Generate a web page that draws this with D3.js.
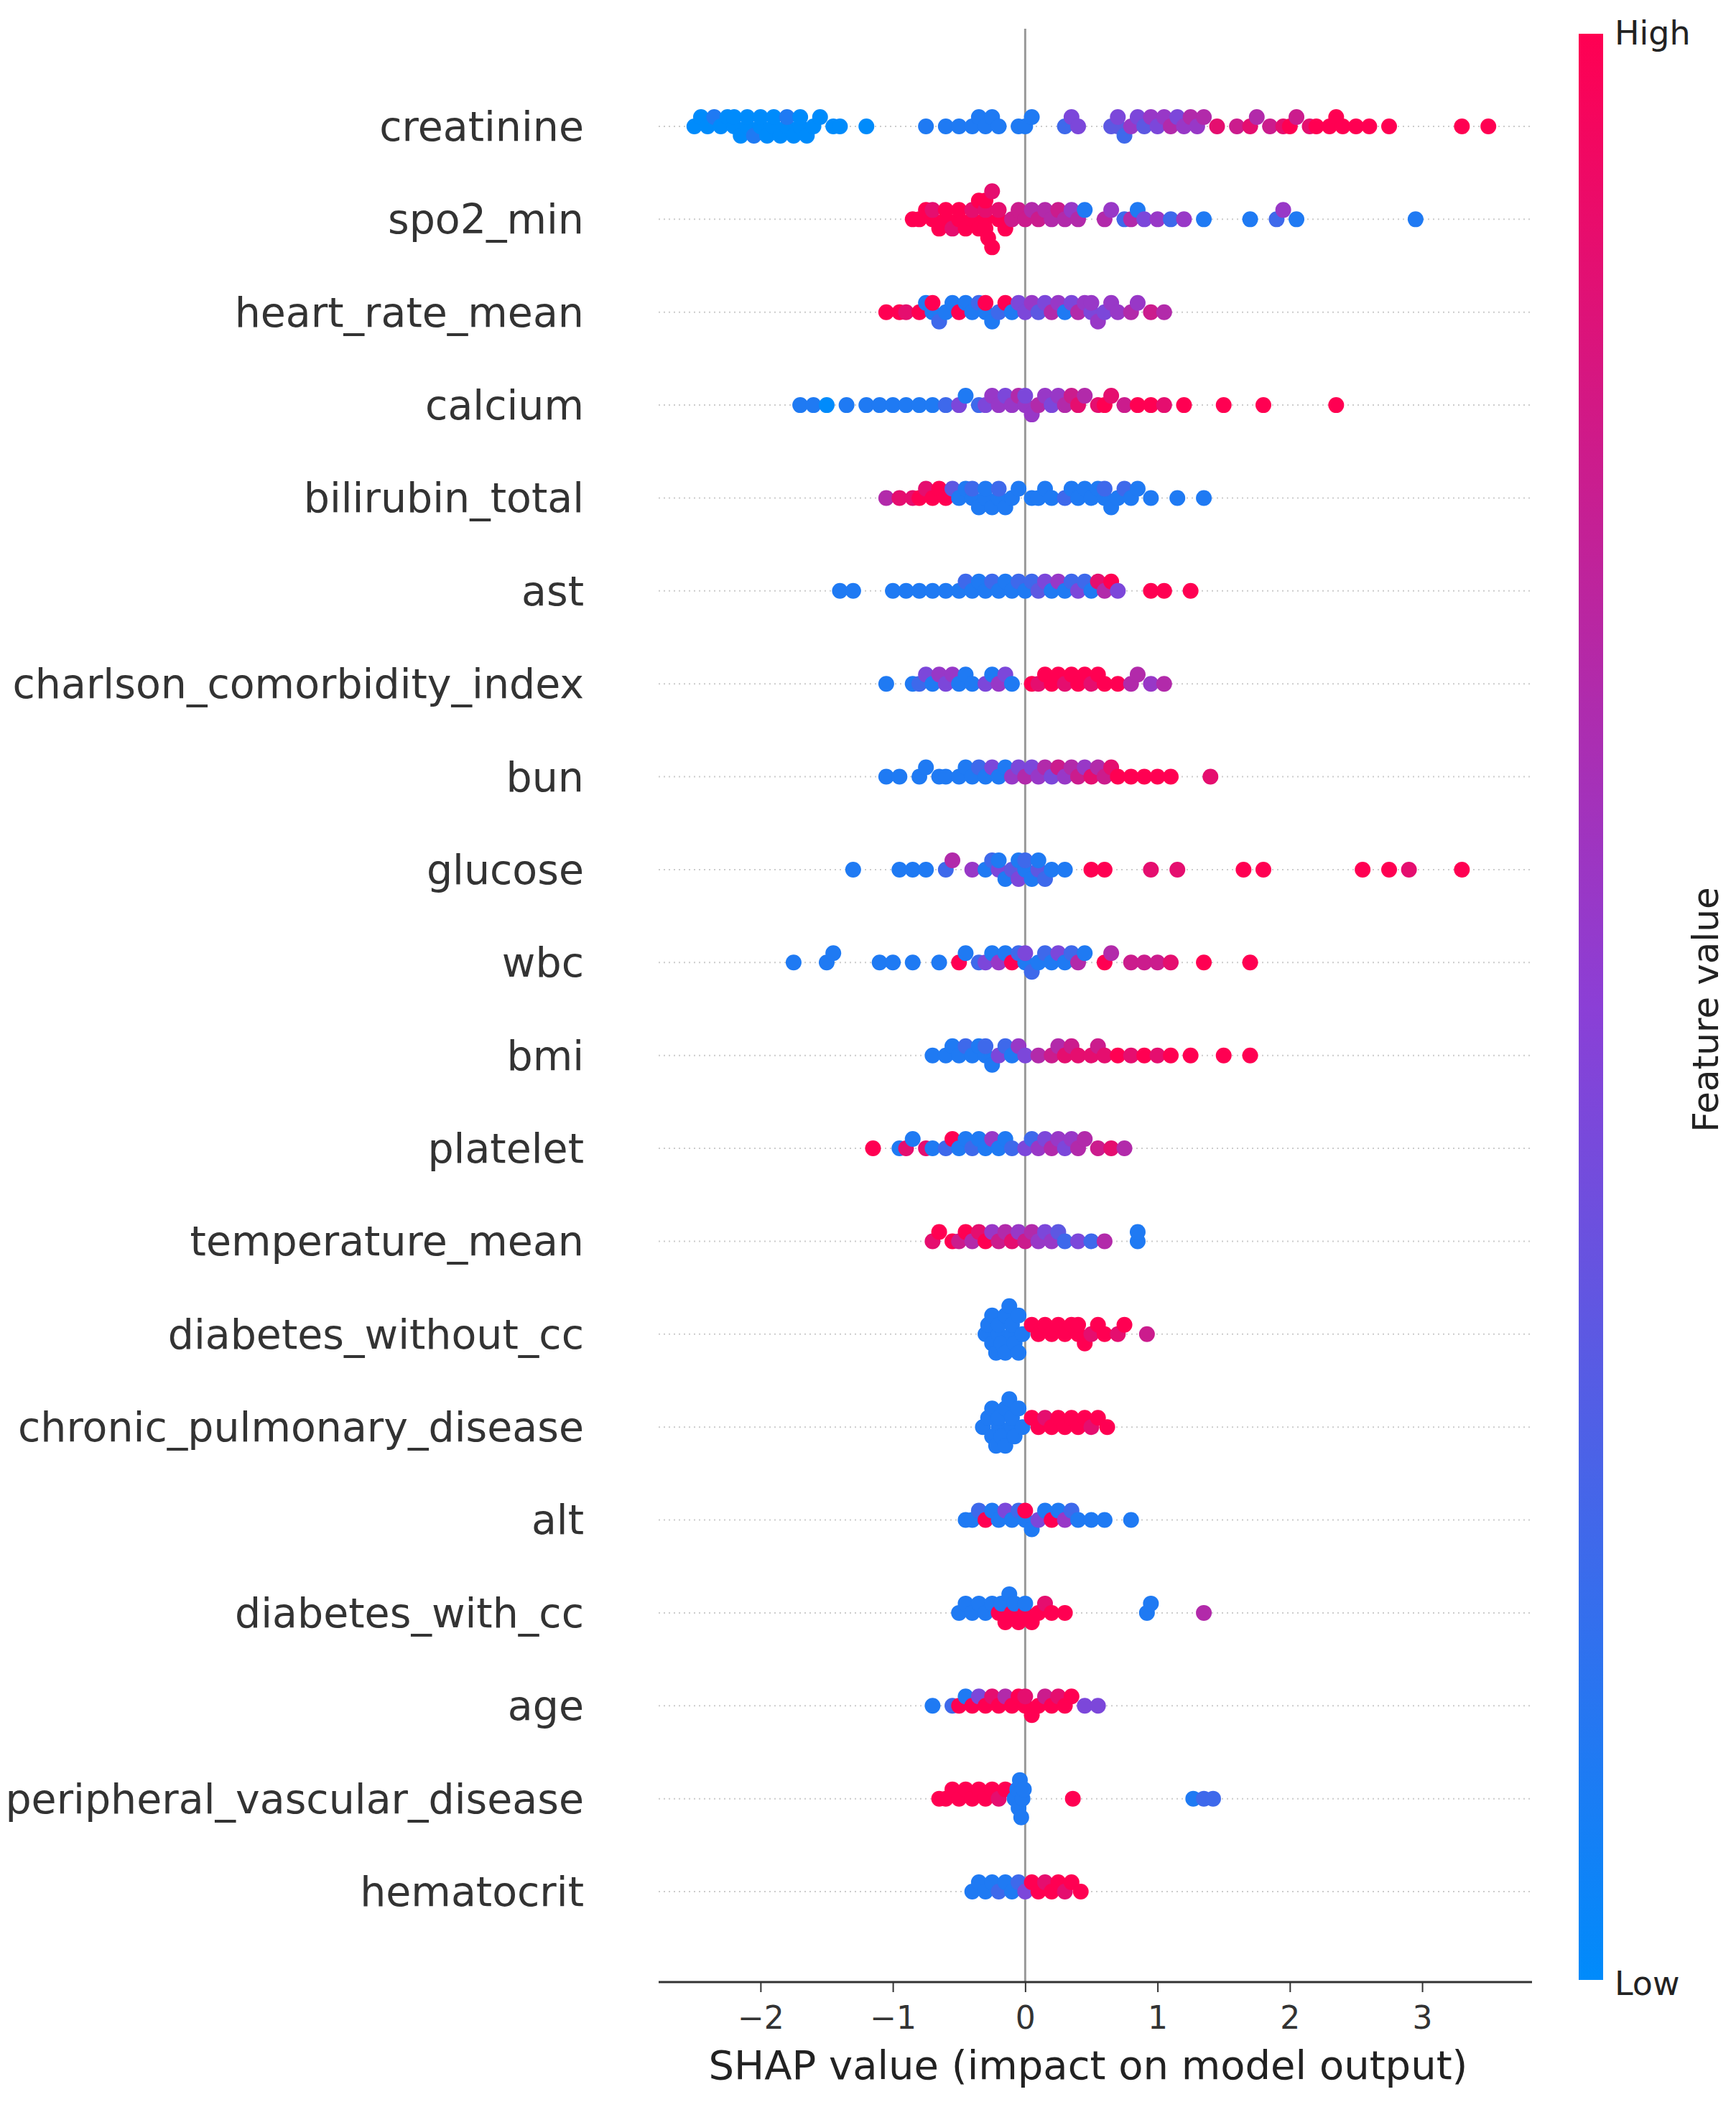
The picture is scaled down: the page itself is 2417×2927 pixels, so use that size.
<!DOCTYPE html>
<html>
<head>
<meta charset="utf-8">
<script src="https://cdn.jsdelivr.net/npm/d3@7"></script>
<style>
  body { margin: 0; background: #fff; }
  text { font-family: "DejaVu Sans", sans-serif; }
</style>
</head>
<body>
<svg id="chart" width="2417" height="2927"></svg>
<script>
// feature names, top to bottom
const features = ["creatinine", "spo2_min", "heart_rate_mean", "calcium", "bilirubin_total", "ast",
  "charlson_comorbidity_index", "bun", "glucose", "wbc", "bmi", "platelet", "temperature_mean",
  "diabetes_without_cc", "chronic_pulmonary_disease", "alt", "diabetes_with_cc", "age",
  "peripheral_vascular_disease", "hematocrit"];

// "shap:feature level (0 low .. 9 high)" per point
const shapPoints = [
  "-2.5:0 -2.45:0 -2.4:0 -2.35:1 -2.3:0 -2.25:0 -2.2:0 -2.2:0 -2.15:0 -2.1:0 -2.1:0 -2.05:1 -2.0:0 -2.0:0 -1.95:0 -1.9:0 -1.9:0 -1.85:0 -1.8:0 -1.8:1 -1.75:0 -1.7:0 -1.7:0 -1.65:0 -1.6:0 -1.55:0 -1.45:0 -1.4:0 -1.2:0 -0.75:1 -0.6:1 -0.5:1 -0.4:1 -0.35:1 -0.3:1 -0.25:1 -0.2:1 -0.05:1 0.0:1 0.05:1 0.3:2 0.35:4 0.4:4 0.65:3 0.7:3 0.7:4 0.75:2 0.8:5 0.85:4 0.9:3 0.95:5 1.0:4 1.05:5 1.1:6 1.15:4 1.2:5 1.25:6 1.3:5 1.35:6 1.45:8 1.6:7 1.7:8 1.75:6 1.85:7 1.95:8 2.0:9 2.05:7 2.15:8 2.2:9 2.3:9 2.35:9 2.4:9 2.5:9 2.6:9 2.75:9 3.3:9 3.5:9",
  "-0.85:9 -0.8:9 -0.75:9 -0.7:9 -0.7:8 -0.65:9 -0.6:9 -0.6:9 -0.55:8 -0.5:9 -0.5:9 -0.45:9 -0.4:9 -0.4:8 -0.35:9 -0.35:9 -0.3:9 -0.3:8 -0.3:9 -0.3:9 -0.28:9 -0.25:8 -0.25:9 -0.2:9 -0.2:8 -0.15:9 -0.1:7 -0.05:7 0.0:7 0.05:6 0.1:7 0.15:6 0.2:6 0.25:7 0.3:6 0.35:5 0.4:6 0.45:1 0.6:6 0.65:5 0.75:2 0.8:6 0.85:1 0.9:4 1.0:5 1.1:2 1.2:5 1.35:1 1.7:1 1.9:2 1.95:5 2.05:1 2.95:1",
  "-1.05:9 -0.95:9 -0.9:8 -0.8:9 -0.75:1 -0.7:1 -0.7:9 -0.65:2 -0.6:1 -0.55:1 -0.5:9 -0.45:1 -0.4:1 -0.35:2 -0.3:1 -0.3:9 -0.25:1 -0.2:2 -0.15:9 -0.1:1 -0.05:4 0.0:4 0.05:5 0.1:3 0.15:4 0.2:6 0.25:5 0.3:1 0.35:4 0.4:6 0.45:5 0.5:4 0.5:5 0.55:5 0.6:4 0.65:5 0.7:5 0.8:6 0.85:5 0.95:7 1.05:6",
  "-1.7:1 -1.6:1 -1.5:0 -1.35:1 -1.2:1 -1.1:1 -1.0:1 -0.9:1 -0.8:1 -0.7:1 -0.6:2 -0.5:4 -0.45:1 -0.35:2 -0.3:4 -0.25:5 -0.2:5 -0.15:4 -0.1:5 -0.05:6 0.0:5 0.0:4 0.05:5 0.1:6 0.15:5 0.2:4 0.25:5 0.3:6 0.35:7 0.4:8 0.45:6 0.55:8 0.6:9 0.65:8 0.75:7 0.85:9 0.95:9 1.05:8 1.2:9 1.5:9 1.8:9 2.35:9",
  "-1.05:6 -0.95:8 -0.85:8 -0.8:9 -0.75:8 -0.7:9 -0.65:9 -0.6:9 -0.55:3 -0.5:1 -0.45:1 -0.4:1 -0.4:2 -0.35:1 -0.3:1 -0.3:1 -0.25:1 -0.2:1 -0.2:2 -0.15:1 -0.1:1 -0.05:1 0.05:1 0.1:1 0.15:1 0.2:1 0.3:2 0.35:1 0.4:1 0.45:1 0.5:1 0.55:1 0.6:1 0.6:2 0.65:1 0.7:1 0.75:2 0.8:1 0.85:1 0.95:1 1.15:1 1.35:1",
  "-1.4:1 -1.3:1 -1.0:1 -0.9:1 -0.8:1 -0.7:1 -0.6:1 -0.5:1 -0.45:2 -0.4:1 -0.35:1 -0.3:1 -0.25:2 -0.2:1 -0.15:1 -0.1:1 -0.05:2 0.0:1 0.05:2 0.1:3 0.15:4 0.2:1 0.25:5 0.3:1 0.35:2 0.4:4 0.45:2 0.5:1 0.55:8 0.6:6 0.65:9 0.7:4 0.95:9 1.05:9 1.25:9",
  "-1.05:1 -0.85:1 -0.8:2 -0.75:4 -0.7:1 -0.65:5 -0.6:4 -0.55:5 -0.5:1 -0.45:1 -0.4:1 -0.3:4 -0.25:1 -0.2:5 -0.15:4 -0.1:1 0.05:9 0.1:8 0.15:9 0.2:9 0.25:9 0.3:8 0.35:9 0.4:9 0.45:9 0.5:8 0.55:9 0.6:9 0.7:9 0.8:6 0.85:6 0.95:5 1.05:6",
  "-1.05:1 -0.95:1 -0.8:1 -0.75:1 -0.65:1 -0.6:1 -0.5:1 -0.45:1 -0.4:1 -0.35:2 -0.3:1 -0.25:4 -0.2:1 -0.15:1 -0.1:5 -0.05:4 0.0:6 0.05:4 0.1:5 0.15:6 0.2:4 0.25:7 0.3:5 0.35:6 0.4:7 0.45:5 0.5:8 0.55:6 0.6:7 0.65:8 0.7:9 0.8:9 0.9:9 1.0:9 1.1:9 1.4:8",
  "-1.3:1 -0.95:1 -0.85:1 -0.75:1 -0.6:2 -0.55:6 -0.4:5 -0.3:1 -0.25:2 -0.2:4 -0.2:1 -0.15:1 -0.1:3 -0.05:1 -0.05:4 0.0:1 0.0:2 0.05:1 0.1:3 0.1:1 0.15:2 0.2:1 0.3:1 0.5:9 0.6:9 0.95:8 1.15:8 1.65:9 1.8:9 2.55:9 2.75:9 2.9:8 3.3:9",
  "-1.75:1 -1.5:1 -1.45:1 -1.1:1 -1.0:1 -0.85:1 -0.65:1 -0.5:9 -0.45:1 -0.35:2 -0.3:4 -0.25:1 -0.2:5 -0.15:1 -0.1:9 -0.05:2 0.0:1 0.0:4 0.05:2 0.1:1 0.15:2 0.2:1 0.25:4 0.3:1 0.35:2 0.4:6 0.45:1 0.6:9 0.65:6 0.8:7 0.9:7 1.0:7 1.1:8 1.35:9 1.7:9",
  "-0.7:1 -0.6:1 -0.55:1 -0.5:1 -0.45:2 -0.4:1 -0.35:1 -0.3:1 -0.3:2 -0.25:1 -0.2:4 -0.15:2 -0.1:1 -0.05:5 0.0:4 0.1:6 0.2:7 0.25:6 0.3:8 0.35:7 0.4:8 0.5:8 0.55:7 0.6:8 0.7:9 0.8:8 0.9:9 1.0:8 1.1:9 1.25:9 1.5:9 1.7:9",
  "-1.15:9 -0.95:1 -0.9:8 -0.85:1 -0.75:8 -0.7:1 -0.6:2 -0.55:9 -0.5:1 -0.45:1 -0.4:2 -0.35:1 -0.3:1 -0.25:5 -0.2:1 -0.15:1 -0.1:2 0.0:4 0.05:2 0.1:5 0.15:4 0.2:6 0.25:5 0.3:4 0.35:5 0.4:6 0.45:6 0.55:7 0.65:8 0.75:6",
  "-0.7:8 -0.65:9 -0.55:9 -0.5:7 -0.45:9 -0.4:6 -0.35:8 -0.3:9 -0.25:5 -0.2:7 -0.15:6 -0.1:8 -0.05:5 0.0:7 0.05:6 0.1:5 0.15:4 0.2:5 0.25:3 0.3:2 0.4:4 0.5:2 0.6:6 0.85:1 0.85:1",
  "-0.3:1 -0.28:1 -0.25:1 -0.25:1 -0.22:1 -0.2:1 -0.2:1 -0.18:1 -0.15:1 -0.15:1 -0.12:1 -0.1:1 -0.1:1 -0.08:1 -0.05:1 -0.05:1 -0.02:1 0.05:9 0.1:9 0.15:9 0.2:9 0.25:9 0.3:9 0.35:9 0.4:9 0.4:9 0.45:9 0.5:8 0.55:9 0.6:9 0.7:8 0.75:9 0.92:7",
  "-0.32:1 -0.28:1 -0.25:1 -0.25:1 -0.22:1 -0.2:1 -0.2:1 -0.18:1 -0.15:1 -0.15:1 -0.12:1 -0.1:1 -0.1:1 -0.08:1 -0.05:1 -0.02:1 0.05:9 0.1:9 0.15:8 0.2:9 0.25:9 0.3:9 0.35:9 0.4:9 0.45:9 0.5:8 0.55:9 0.62:9",
  "-0.45:1 -0.4:1 -0.35:2 -0.3:9 -0.25:1 -0.2:1 -0.15:4 -0.1:1 -0.05:2 0.0:1 0.0:9 0.05:1 0.1:4 0.15:1 0.2:9 0.25:1 0.3:5 0.35:2 0.4:1 0.5:1 0.6:1 0.8:1",
  "-0.5:1 -0.45:1 -0.4:1 -0.35:1 -0.3:1 -0.25:1 -0.2:9 -0.18:1 -0.15:9 -0.12:1 -0.1:9 -0.08:1 -0.05:9 0.0:9 0.0:1 0.05:9 0.1:9 0.15:8 0.2:9 0.3:9 0.92:1 0.95:1 1.35:6",
  "-0.7:1 -0.55:2 -0.5:9 -0.45:1 -0.4:9 -0.35:4 -0.3:9 -0.25:8 -0.2:9 -0.15:6 -0.1:9 -0.05:9 0.0:9 0.0:8 0.05:9 0.1:9 0.15:7 0.2:9 0.25:8 0.3:9 0.35:9 0.45:4 0.55:4",
  "-0.65:9 -0.6:9 -0.55:9 -0.5:9 -0.45:9 -0.4:9 -0.35:9 -0.3:9 -0.25:9 -0.2:8 -0.15:9 -0.08:1 -0.06:1 -0.05:1 -0.04:1 -0.03:1 -0.02:1 -0.01:1 0.36:9 1.27:1 1.35:2 1.42:2",
  "-0.4:1 -0.35:1 -0.3:1 -0.25:1 -0.2:2 -0.15:1 -0.1:1 -0.05:2 0.0:4 0.05:9 0.1:9 0.15:8 0.2:9 0.25:9 0.3:8 0.35:9 0.42:9"
];
const xTicks = [-2, -1, 0, 1, 2, 3];

const svg = d3.select("#chart");
const x = d3.scaleLinear().domain([-2.77, 3.83]).range([917, 2133]);
const y = d3.scalePoint().domain(features).range([176, 2634]);
const color = d3.scaleLinear().domain([0, 4.5, 9]).range(["#008bfb", "#8b3fd6", "#ff0052"]).interpolate(d3.interpolateRgb);
const r = 11;

// row grid lines
svg.selectAll(".grid").data(features).join("line")
  .attr("x1", 917).attr("x2", 2133)
  .attr("y1", d => y(d)).attr("y2", d => y(d))
  .attr("stroke", "#ccc").attr("stroke-width", 2).attr("stroke-dasharray", "2,5");

// zero line
svg.append("line").attr("x1", x(0)).attr("x2", x(0)).attr("y1", 40).attr("y2", 2760)
  .attr("stroke", "#999").attr("stroke-width", 3);

// points, beeswarm layout by binning
features.forEach((f, i) => {
  const pts = shapPoints[i].split(" ").map(s => { const [a, b] = s.split(":"); return { v: +a, c: +b }; });
  pts.sort((a, b) => a.v - b.v);
  const bins = d3.group(pts, p => Math.round((p.v + 2.77) / 0.1));
  bins.forEach(arr => {
    arr.forEach((p, k) => {
      const layer = Math.ceil(k / 2);
      p.off = (k % 2 === 1 ? -1 : 1) * layer;
    });
  });
  const maxOff = d3.max(pts, p => Math.abs(p.off)) || 1;
  const step = Math.min(13, 58 / maxOff);
  svg.append("g").selectAll("circle").data(pts).join("circle")
    .attr("cx", p => x(p.v)).attr("cy", p => y(f) + p.off * step)
    .attr("r", r).attr("fill", p => color(p.c));

  svg.append("text").attr("x", 813).attr("y", y(f)).attr("dy", "0.35em")
    .attr("text-anchor", "end").attr("font-size", 57).attr("fill", "#333").text(f);
});

// x axis
const axis = svg.append("g").attr("transform", "translate(0,2760)")
  .call(d3.axisBottom(x).tickValues(xTicks).tickSize(14).tickFormat(d => d < 0 ? "\u2212" + Math.abs(d) : d));
axis.select(".domain").attr("stroke", "#333").attr("stroke-width", 3).attr("d", "M917,0H2133");
axis.selectAll(".tick line").attr("stroke", "#333").attr("stroke-width", 2);
axis.selectAll(".tick text").attr("font-size", 44).attr("fill", "#333").attr("dy", "1.1em")
  .attr("font-family", "DejaVu Sans");
svg.append("text").attr("x", 1515).attr("y", 2895).attr("text-anchor", "middle")
  .attr("font-size", 56).attr("fill", "#222").text("SHAP value (impact on model output)");

// colour bar
const defs = svg.append("defs");
const grad = defs.append("linearGradient").attr("id", "cbar").attr("x1", 0).attr("x2", 0).attr("y1", 1).attr("y2", 0);
[0, 0.5, 1].forEach(t => grad.append("stop").attr("offset", t).attr("stop-color", color(t * 9)));
svg.append("rect").attr("x", 2198).attr("y", 47).attr("width", 34).attr("height", 2710).attr("fill", "url(#cbar)");
svg.append("text").attr("x", 2248).attr("y", 62).attr("font-size", 46).attr("fill", "#222").text("High");
svg.append("text").attr("x", 2248).attr("y", 2778).attr("font-size", 46).attr("fill", "#222").text("Low");
svg.append("text").attr("transform", "translate(2392,1406) rotate(-90)").attr("text-anchor", "middle")
  .attr("font-size", 50).attr("fill", "#222").text("Feature value");
</script>
</body>
</html>
